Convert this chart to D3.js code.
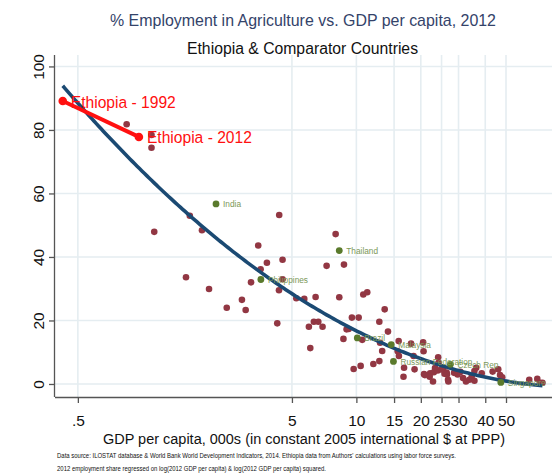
<!DOCTYPE html>
<html>
<head>
<meta charset="utf-8">
<script src="https://cdn.jsdelivr.net/npm/d3@7/dist/d3.min.js"></script>
<style>
  html, body { margin: 0; padding: 0; background: #fff; }
  svg { display: block; font-family: "Liberation Sans", Arial, sans-serif; }
</style>
</head>
<body>
<svg id="chart" width="555" height="475"></svg>
<script>
// ---- Data (GDP per capita, 000s; % employment in agriculture) ----
const comparatorGdp = [0.845,1.104,1.104,1.137,1.667,1.90,4.36,3.48,3.82,4.52,3.57,3.22,4.52,4.35,1.60,2.05,2.92,2.48,3.04,5.24,
  5.71,6.45,4.27,6.00,6.33,6.64,6.95,6.09,8.0,7.26,8.75,8.32,10.77,11.24,9.0,9.2,9.53,10.25,8.70,9.71,
  10.47,13.56,12.8,14.05,12.9,13.2,12.0,12.8,15.76,15.6,15.8,16.7,16.6,18.0,18.5,18.7,20.5,20.6,20.7,22.1,
  23.0,22.0,22.8,24.1,24.2,23.3,25.4,26.4,26.8,29.7,30.6,31.5,32.5,33.7,34.6,35.6,36.3,35.6,28.6,25.8,
  26.5,26.9,24.0,24.9,38.5,43.3,46.0,46.9,48.0,64.2,70.0,74.0,72.0,10.65,20.9];
const comparatorEmp = [81.8,78.4,74.4,47.9,53.0,48.4,53.2,43.6,38.2,39.1,36.1,32.0,33.0,29.5,33.6,29.9,26.5,24.0,23.3,27.0,
  26.8,27.4,19.1,18.0,19.6,19.6,18.0,11.3,47.2,37.2,37.6,27.3,28.2,28.9,17.2,17.3,20.9,20.9,14.2,4.7,
  5.7,23.5,19.6,16.5,13.0,10.4,6.3,7.2,13.5,10.3,8.8,5.1,2.3,12.7,8.8,4.6,13.1,10.3,3.1,3.4,
  3.7,2.3,0.8,8.4,6.7,5.0,4.6,3.6,1.3,3.0,3.8,1.9,0.8,1.35,2.4,4.1,5.1,1.0,3.5,3.2,
  3.0,0.8,4.25,4.6,3.4,3.9,4.6,2.8,2.1,1.3,1.6,0.4,0.4,13.9,2.8];

const highlightNames = ["India","Philippines","Thailand","Brazil","Malaysia","Russian Federation","Czech Rep","Singapore"];
const highlightGdp   = [2.21, 3.58, 8.32, 10.1, 14.55, 14.9, 27.5, 47.3];
const highlightEmp   = [56.7, 32.9, 42.0, 14.5, 12.4, 7.1, 6.2, 0.5];

const ethiopiaLabels = ["Ethiopia - 1992", "Ethiopia - 2012"];
const ethiopiaGdp    = [0.425, 0.964];
const ethiopiaEmp    = [89.1, 77.8];

const xTickValues = [0.5, 5, 10, 15, 20, 25, 30, 40, 50];
const xTickLabels = [".5", "5", "10", "15", "20", "25", "30", "40", "50"];
const yTickValues = [0, 20, 40, 60, 80, 100];

const titleText = "% Employment in Agriculture vs. GDP per capita, 2012";
const subtitleText = "Ethiopia & Comparator Countries";
const xTitleText = "GDP per capita, 000s (in constant 2005 international $ at PPP)";
const note1 = "Data source: ILOSTAT database & World Bank World Development Indicators, 2014. Ethiopia data from Authors' calculations using labor force surveys.";
const note2 = "2012 employment share regressed on log(2012 GDP per capita) & log(2012 GDP per capita) squared.";

// ---- Layout ----
const svg = d3.select("#chart");
const pLeft = 55, pRight = 552, pTop = 55, pBottom = 397;

const x = d3.scaleLog().domain([0.391, 82]).range([pLeft, pRight]);
const y = d3.scaleLinear().domain([-4.1, 103.6]).range([pBottom, pTop]);

// Grid
const gridColor = "#e5edf1";
svg.append("g").selectAll("line").data(yTickValues).join("line")
  .attr("x1", pLeft).attr("x2", pRight)
  .attr("y1", d => y(d)).attr("y2", d => y(d))
  .attr("stroke", gridColor).attr("stroke-width", 1.6);
svg.append("g").selectAll("line").data(xTickValues).join("line")
  .attr("x1", d => x(d)).attr("x2", d => x(d))
  .attr("y1", pTop).attr("y2", pBottom)
  .attr("stroke", gridColor).attr("stroke-width", 1.6);

// Axes
const axisColor = "#555";
const xAxis = d3.axisBottom(x).tickValues(xTickValues)
  .tickFormat((d, i) => xTickLabels[i]).tickSize(6).tickSizeOuter(0).tickPadding(12);
const gx = svg.append("g").attr("transform", `translate(0,${pBottom})`).call(xAxis);
gx.select(".domain").attr("stroke", axisColor).attr("stroke-width", 1.3)
  .attr("d", `M${pLeft},0.5H${pRight}`);
gx.selectAll(".tick line").attr("stroke", axisColor).attr("stroke-width", 1.3);
gx.selectAll(".tick text").attr("font-size", 15.5).attr("fill", "#111")
  .attr("font-family", "Liberation Sans, Arial, sans-serif");

const yAxis = d3.axisLeft(y).tickValues(yTickValues).tickSize(6).tickSizeOuter(0).tickFormat(d3.format("d"));
const gy = svg.append("g").attr("transform", `translate(${pLeft},0)`).call(yAxis);
gy.select(".domain").attr("stroke", axisColor).attr("stroke-width", 1.3)
  .attr("d", `M-0.5,${pTop}V${pBottom}`);
gy.selectAll(".tick line").attr("stroke", axisColor).attr("stroke-width", 1.3);
gy.selectAll(".tick text")
  .attr("font-size", 15.5).attr("fill", "#111")
  .attr("font-family", "Liberation Sans, Arial, sans-serif")
  .attr("x", null).attr("dy", null)
  .attr("text-anchor", "middle")
  .attr("transform", "translate(-11,0) rotate(-90)");

// Quadratic fit in log(GDP) computed from 2012 data
const fitX = comparatorGdp.concat(highlightGdp, [ethiopiaGdp[1]]);
const fitY = comparatorEmp.concat(highlightEmp, [ethiopiaEmp[1]]);
function quadFit(xs, ys) {
  const S = [[0,0,0],[0,0,0],[0,0,0]], T = [0,0,0];
  xs.forEach((xv, i) => {
    const L = Math.log(xv), v = [1, L, L*L];
    for (let a = 0; a < 3; a++) { T[a] += v[a]*ys[i]; for (let b = 0; b < 3; b++) S[a][b] += v[a]*v[b]; }
  });
  const M = S.map((r, i) => r.concat([T[i]]));
  for (let c = 0; c < 3; c++) {
    let p = c; for (let r = c+1; r < 3; r++) if (Math.abs(M[r][c]) > Math.abs(M[p][c])) p = r;
    [M[c], M[p]] = [M[p], M[c]];
    for (let r = 0; r < 3; r++) if (r !== c) {
      const f = M[r][c] / M[c][c];
      for (let k = c; k < 4; k++) M[r][k] -= f*M[c][k];
    }
  }
  return [M[0][3]/M[0][0], M[1][3]/M[1][1], M[2][3]/M[2][2]];
}
const coef = quadFit(fitX, fitY);
const allX = fitX.concat([ethiopiaGdp[0]]);
const [xMin, xMax] = d3.extent(allX);
const curvePts = d3.range(0, 201).map(i => {
  const xv = Math.exp(Math.log(xMin) + (Math.log(xMax) - Math.log(xMin)) * i / 200);
  const L = Math.log(xv);
  return [xv, coef[0] + coef[1]*L + coef[2]*L*L];
});

// Comparator points
svg.append("g").selectAll("circle").data(comparatorGdp).join("circle")
  .attr("cx", d => x(d)).attr("cy", (d, i) => y(comparatorEmp[i]))
  .attr("r", 3.3).attr("fill", "#923743");

// Fit line
svg.append("path").datum(curvePts)
  .attr("d", d3.line().x(d => x(d[0])).y(d => y(d[1])))
  .attr("fill", "none").attr("stroke", "#1b4a73").attr("stroke-width", 3.6);

// Highlighted points and labels
const hl = svg.append("g");
hl.selectAll("circle").data(highlightGdp).join("circle")
  .attr("cx", d => x(d)).attr("cy", (d, i) => y(highlightEmp[i]))
  .attr("r", 3.4).attr("fill", "#5a7a2c");
hl.selectAll("text").data(highlightNames).join("text")
  .attr("x", (d, i) => x(highlightGdp[i]) + 7)
  .attr("y", (d, i) => y(highlightEmp[i]) + 3.5)
  .attr("font-size", 8.3).attr("fill", "#7b9858")
  .text(d => d);

// Ethiopia line, points, labels
svg.append("path").datum(ethiopiaGdp.map((d, i) => [d, ethiopiaEmp[i]]))
  .attr("d", d3.line().x(d => x(d[0])).y(d => y(d[1])))
  .attr("stroke", "#ff1010").attr("stroke-width", 4).attr("fill", "none");
svg.append("g").selectAll("circle").data(ethiopiaGdp).join("circle")
  .attr("cx", d => x(d)).attr("cy", (d, i) => y(ethiopiaEmp[i]))
  .attr("r", 4.3).attr("fill", "#ff1010");
svg.append("g").selectAll("text").data(ethiopiaLabels).join("text")
  .attr("x", (d, i) => x(ethiopiaGdp[i]) + 8)
  .attr("y", (d, i) => y(ethiopiaEmp[i]) + 6.5)
  .attr("font-size", 16.3).attr("fill", "#ff1010")
  .attr("textLength", 105).attr("lengthAdjust", "spacingAndGlyphs")
  .text(d => d);

// Titles
svg.append("text").attr("x", 110).attr("y", 26)
  .attr("font-size", 17).attr("fill", "#34436a")
  .attr("textLength", 386).attr("lengthAdjust", "spacingAndGlyphs").text(titleText);
svg.append("text").attr("x", 187).attr("y", 54)
  .attr("font-size", 16).attr("fill", "#111")
  .attr("textLength", 231).attr("lengthAdjust", "spacingAndGlyphs").text(subtitleText);
svg.append("text").attr("x", 103).attr("y", 444)
  .attr("font-size", 15.5).attr("fill", "#111")
  .attr("textLength", 402).attr("lengthAdjust", "spacingAndGlyphs").text(xTitleText);

// Notes
svg.append("text").attr("x", 57).attr("y", 458).attr("font-size", 6.3).attr("fill", "#111")
  .attr("textLength", 399).attr("lengthAdjust", "spacingAndGlyphs").text(note1);
svg.append("text").attr("x", 57).attr("y", 471).attr("font-size", 6.3).attr("fill", "#111")
  .attr("textLength", 269).attr("lengthAdjust", "spacingAndGlyphs").text(note2);
</script>
</body>
</html>
